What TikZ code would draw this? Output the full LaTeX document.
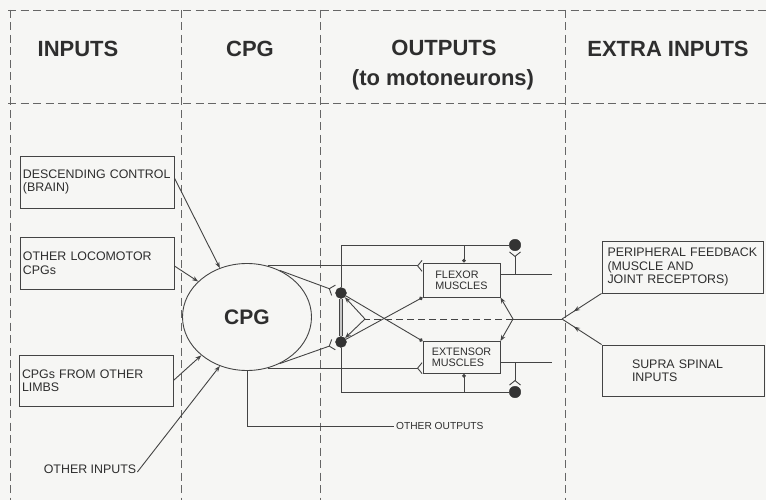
\documentclass[tikz,border=0pt]{standalone}
\usepackage{fontspec}
\setmainfont{Liberation Sans}
\usetikzlibrary{arrows.meta,shapes.geometric,calc,decorations.markings}
\definecolor{lc}{HTML}{444444}
\definecolor{tc}{HTML}{2E2E2E}
\definecolor{dc}{HTML}{333333}
\definecolor{bgc}{HTML}{F6F6F4}
\definecolor{gc}{HTML}{666666}
\begin{document}
\begin{tikzpicture}[x=1pt,y=-1pt,
  ln/.style={draw=lc, line width=0.9pt},
  grid/.style={draw=gc, line width=0.7pt, dash pattern=on 8pt off 4.5pt},
  head/.style={font=\fontsize{22}{26}\selectfont\bfseries, text=tc, inner sep=0pt},
  box/.style={draw=lc, line width=0.9pt, align=left, font=\fontsize{12.4}{13.5}\selectfont, text=tc, inner xsep=3pt, inner ysep=0pt},
  mbox/.style={draw=lc, line width=0.9pt, align=left, font=\fontsize{10.8}{11}\selectfont, text=tc, minimum width=77pt, inner sep=0pt},
  txt/.style={font=\fontsize{12.4}{13.5}\selectfont, text=tc, inner sep=1pt},
  small/.style={font=\fontsize{10.2}{12}\selectfont, text=tc, inner sep=2pt},
  ndot/.style={circle, fill=dc, draw=dc, inner sep=0pt},
  arr/.style={-{Stealth[length=6pt,width=4.5pt]}},
  fork/.style={-{Straight Barb[reversed,length=4.5pt,width=11pt]}},
  tdot/.style={-{Circle[length=3.8pt]}},
  midarr/.style={postaction={decorate,decoration={markings,mark=at position #1 with {\arrow{Stealth[length=6pt,width=4.5pt]}}}}}
]
\fill[bgc] (0,0) rectangle (766,500);
\useasboundingbox (0,0) rectangle (766,500);

% grid
\draw[grid] (8,10) -- (766,10);
\draw[grid] (8,103) -- (766,103);
\foreach \x in {10,181,320,565} \draw[grid] (\x,10) -- (\x,500);

% headers
\node[head] (hin) at (78,49) {INPUTS};
\node[head] (hcpg) at (250,49) {CPG};
\node[head] (hout) at (444,48) {OUTPUTS};
\node[head] (hout2) at (443,80) {(to motoneurons)};
\node[head] (hext) at (668,49) {EXTRA INPUTS};

% input boxes
\node[box, minimum height=52pt, text width=148pt] (desc) at (97,182) {DESCENDING CONTROL\\(BRAIN)};
\node[box, minimum height=52pt, text width=148pt] (loco) at (97,263) {OTHER LOCOMOTOR\\CPGs};
\node[box, minimum height=51pt, text width=148pt] (limbs) at (96,380.5) {CPGs FROM OTHER\\LIMBS};
\node[txt] (oin) at (90,469) {OTHER INPUTS};

% extra input boxes
\node[box, minimum height=52pt, inner xsep=5.5pt, text width=150pt] (periph) at (682.5,267) {PERIPHERAL FEEDBACK\\(MUSCLE AND\\JOINT RECEPTORS)};
\node[box, minimum height=51pt, inner xsep=30pt, text width=102pt] (supra) at (683,370.5) {SUPRA SPINAL\\INPUTS};

% CPG
\node[draw=lc, line width=0.9pt, ellipse, minimum width=129pt, minimum height=107pt, inner sep=0pt, font=\fontsize{21}{25}\selectfont\bfseries, text=tc] (cpg) at (247,317) {CPG};

% muscles
\node[mbox, minimum height=34pt] (flex) at (461.5,280) {FLEXOR\\MUSCLES};
\node[mbox, minimum height=32pt] (ext) at (461.5,357.5) {EXTENSOR\\MUSCLES};

% neurons
\node[ndot, minimum size=11pt] (ia) at (341,293) {};
\node[ndot, minimum size=11pt] (ib) at (341,342) {};
\node[ndot, minimum size=11.5pt] (ra) at (515,245) {};
\node[ndot, minimum size=11.5pt] (rb) at (515,392) {};

\node[small, anchor=west] (oout) at (394,426) {OTHER OUTPUTS};

\coordinate (ft) at (464,245);
\coordinate (eb) at (464,392);
\coordinate (fo) at (552,274);
\coordinate (eo) at (552,362);
\coordinate (fr) at (515,274);
\coordinate (er) at (515,362);
\coordinate (jn) at (562,319);
\coordinate (jr) at (513,319);
\coordinate (jl) at (365,319);

% inputs to CPG
\draw[ln,arr] ([yshift=4pt]desc.east) -- (cpg.119);
\draw[ln,arr] ([yshift=-3pt]loco.east) -- (cpg.144);
\draw[ln,arr] (limbs.east) -- (cpg.220);
\draw[ln,arr] ([yshift=-3pt]oin.east) -- (cpg.241);

% interneuron bar
\draw[draw=lc, line width=3.6pt] (ia.south) -- (ib.north);
\draw[draw=gray!45, line width=2pt] (ia.south) -- (ib.north);

% rails
\draw[ln] (ia.north) |- (ra.west);
\draw[ln] (ib.south) |- (rb.west);
\draw[ln,tdot] (ft) -- (ft |- flex.north);
\draw[ln,tdot] (eb) -- (eb |- ext.south);

% motoneuron outputs and Renshaw collaterals
\draw[ln] (fo -| flex.east) -- (fo);
\draw[ln] (eo -| ext.east) -- (eo);
\draw[ln,fork] (fr) -- ([yshift=-6.5pt]ra.center);
\draw[ln,fork] (er) -- ([yshift=6.5pt]rb.center);

% CPG outputs
\draw[ln,fork] (cpg.68) -- (cpg.68 -| flex.west);
\draw[ln,fork] (cpg.-68) -- (cpg.-68 -| ext.west);
\draw[ln,fork] (cpg.55) -- ($(ia)!7.5pt!(cpg.55)$);
\draw[ln,fork] (cpg.-55) -- ($(ib)!7.5pt!(cpg.-55)$);
\draw[ln] (cpg.south) |- (oout.west);

% reciprocal inhibition
\draw[ln,tdot] (ia) -- (ext.north west);
\draw[ln,tdot] (ib) -- (flex.south west);

% feedback
\draw[ln,midarr=0.7] (periph.south west) -- (jn);
\draw[ln,midarr=0.7] (supra.north west) -- (jn);
\draw[ln] (jn) -- (jr);
\draw[ln,arr] (jr) -- (flex.south east);
\draw[ln,arr] (jr) -- (ext.north east);
\draw[ln,dash pattern=on 7pt off 4pt] (jr) -- (jl);
\draw[ln,arr] (jl) -- (ia);
\draw[ln,arr] (jl) -- (ib);
\end{tikzpicture}
\end{document}
